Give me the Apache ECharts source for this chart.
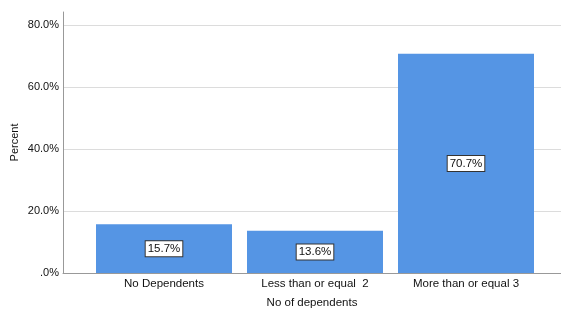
<!DOCTYPE html>
<html>
<head>
<meta charset="utf-8">
<script src="https://cdn.jsdelivr.net/npm/echarts@6/dist/echarts.min.js"></script>
<style>
  html, body { margin: 0; padding: 0; background: #fff; }
  #chart { width: 561px; height: 309px; }
</style>
</head>
<body>
<div id="chart"></div>
<script>
// data
var categories = ['No Dependents', 'Less than or equal  2', 'More than or equal 3']
var percents = [15.7, 13.6, 70.7]
var xTitle = 'No of dependents'
var yTitle = 'Percent'

var font = 'Liberation Sans, Arial, sans-serif'
var barColor = '#5595e4'
var ink = '#111'

function pctLabel(v) {
    // SPSS writes zero as ".0%"
    return v === 0 ? '.0%' : v.toFixed(1) + '%'
}

var chart = echarts.init(document.getElementById('chart'))
chart.setOption({
    animation: false,
    textStyle: { fontFamily: font },
    grid: [
        // bars
        { left: 88.5, width: 453, top: 12, bottom: 36, outerBoundsMode: 'none', containLabel: false },
        // frame: axis lines + gridlines
        { left: 63, right: 0, top: 12, bottom: 36, outerBoundsMode: 'none', containLabel: false }
    ],
    xAxis: [
        {
            gridIndex: 0,
            type: 'category',
            data: categories,
            axisLine: { show: false },
            axisTick: { show: false },
            axisLabel: { color: ink, fontSize: 11.5, fontFamily: font, margin: 5 }
        },
        {
            gridIndex: 1,
            type: 'value',
            min: 0, max: 1,
            name: xTitle,
            nameLocation: 'middle',
            nameGap: 24,
            nameTextStyle: { color: ink, fontSize: 11.5, fontFamily: font },
            axisLine: { show: true, lineStyle: { color: '#999', width: 1 } },
            axisTick: { show: false },
            axisLabel: { show: false },
            splitLine: { show: false }
        }
    ],
    yAxis: [
        {
            gridIndex: 0,
            type: 'value',
            min: 0, max: 84.2,
            show: false
        },
        {
            gridIndex: 1,
            type: 'value',
            min: 0, max: 84.2, interval: 20,
            name: yTitle,
            nameLocation: 'middle',
            nameGap: 43,
            nameMoveOverlap: false,
            nameTextStyle: { color: ink, fontSize: 11, fontFamily: font },
            axisLine: { show: true, lineStyle: { color: '#999', width: 1 } },
            axisTick: { show: false },
            axisLabel: {
                color: ink, fontSize: 11, fontFamily: font, margin: 4,
                showMaxLabel: false,
                formatter: pctLabel
            },
            splitLine: { show: true, showMaxLine: false, showMinLine: false, lineStyle: { color: '#dcdcdc', width: 1 } }
        }
    ],
    series: [{
        type: 'bar',
        xAxisIndex: 0,
        yAxisIndex: 0,
        data: percents,
        barWidth: 136,
        itemStyle: { color: barColor },
        label: {
            show: true,
            position: 'inside',
            formatter: function (p) { return p.value.toFixed(1) + '%' },
            color: ink,
            fontSize: 11.5,
            fontFamily: font,
            backgroundColor: '#fff',
            borderColor: '#333',
            borderWidth: 1,
            padding: [2, 2, 1, 2]
        }
    }]
})
</script>
</body>
</html>
